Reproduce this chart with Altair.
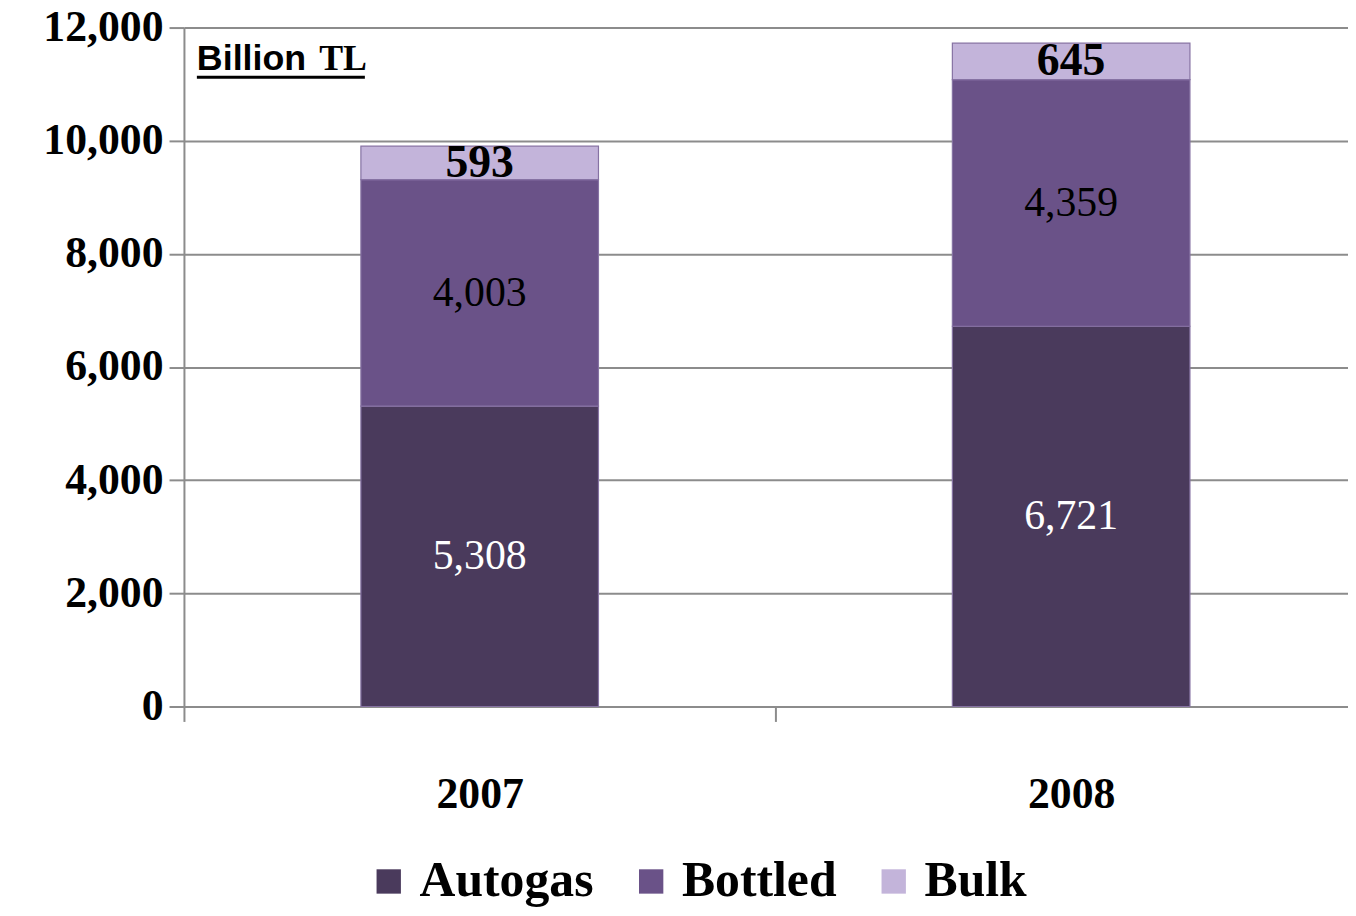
import altair as alt
import pandas as pd

years = ["2007", "2008"]
series = ["Autogas", "Bottled", "Bulk"]
autogas = [5308, 6721]
bottled = [4003, 4359]
bulk = [593, 645]
colors = ["#4a3a5c", "#6a5288", "#c3b4da"]

rows = []
for i, y in enumerate(years):
    base = 0
    for s, vals in zip(series, [autogas, bottled, bulk]):
        v = vals[i]
        rows.append({"year": y, "series": s, "value": v,
                     "start": base, "end": base + v, "mid": base + v / 2,
                     "label": f"{v:,}"})
        base += v
df = pd.DataFrame(rows)

SERIF = "Liberation Serif"
W, H = 1171, 683

xenc = alt.X("year:N", sort=years,
             scale=alt.Scale(range=[0, 1190], paddingInner=0, paddingOuter=0),
             axis=alt.Axis(title=None, labelAngle=0, tickBand="extent", tickSize=15,
                           tickWidth=2, tickColor="#8c8c8c", domain=False, grid=False,
                           labelFont=SERIF, labelFontSize=44, labelFontWeight="bold",
                           labelColor="#000000", labelPadding=52))

bars = alt.Chart(df).mark_bar(size=239, stroke="#8672a3", strokeWidth=1.2).encode(
    x=xenc,
    y=alt.Y("start:Q", scale=alt.Scale(domain=[0, 12000]),
            axis=alt.Axis(title=None, values=list(range(0, 12001, 2000)), format=",d",
                          grid=True, gridColor="#8c8c8c", gridWidth=2,
                          domain=True, domainColor="#8c8c8c", domainWidth=2,
                          tickSize=15, tickWidth=2, tickColor="#8c8c8c",
                          labelFont=SERIF, labelFontSize=44, labelFontWeight="bold",
                          labelColor="#000000", labelPadding=6)),
    y2="end:Q",
    color=alt.Color("series:N", sort=series,
                    scale=alt.Scale(domain=series, range=colors),
                    legend=alt.Legend(title=None, orient="none", direction="horizontal",
                                      legendX=181, legendY=834,
                                      symbolType="square", symbolSize=600,
                                      symbolStrokeWidth=0,
                                      labelFont=SERIF, labelFontSize=50,
                                      labelFontWeight="bold", labelColor="#000000",
                                      labelOffset=6, columnPadding=32,
                                      labelLimit=400)),
)

def labels(name, color, weight, size):
    return alt.Chart(df).transform_filter(alt.datum.series == name).mark_text(
        font=SERIF, fontSize=size, fontWeight=weight, color=color, baseline="middle"
    ).encode(x=alt.X("year:N", sort=years), y="mid:Q", text="label:N")

t1 = labels("Autogas", "#ffffff", "normal", 42)
t2 = labels("Bottled", "#000000", "normal", 42)
t3 = labels("Bulk", "#000000", "bold", 46)

unit_df = pd.DataFrame({"a": ["Billion"], "b": ["TL"]})
u1 = alt.Chart(unit_df).mark_text(font="Liberation Sans", fontSize=36, fontWeight="bold",
                                  align="left", baseline="alphabetic", color="#000000").encode(
    text="a:N", x=alt.value(13), y=alt.value(43))
u2 = alt.Chart(unit_df).mark_text(font=SERIF, fontSize=36, fontWeight="bold",
                                  align="left", baseline="alphabetic", color="#000000").encode(
    text="b:N", x=alt.value(136), y=alt.value(43))
uline = alt.Chart(unit_df).mark_rule(color="#000000", strokeWidth=3).encode(
    x=alt.value(13), x2=alt.value(182), y=alt.value(50))

chart = alt.layer(bars, t1, t2, t3, u1, u2, uline).properties(
    width=W, height=H,
    autosize=alt.AutoSizeParams(type="none"),
    padding={"left": 177, "top": 17, "right": 0, "bottom": 200},
).configure_view(stroke=None).configure(background="#ffffff")

chart.save("out.html", embed_options={"renderer": "svg", "actions": False})
